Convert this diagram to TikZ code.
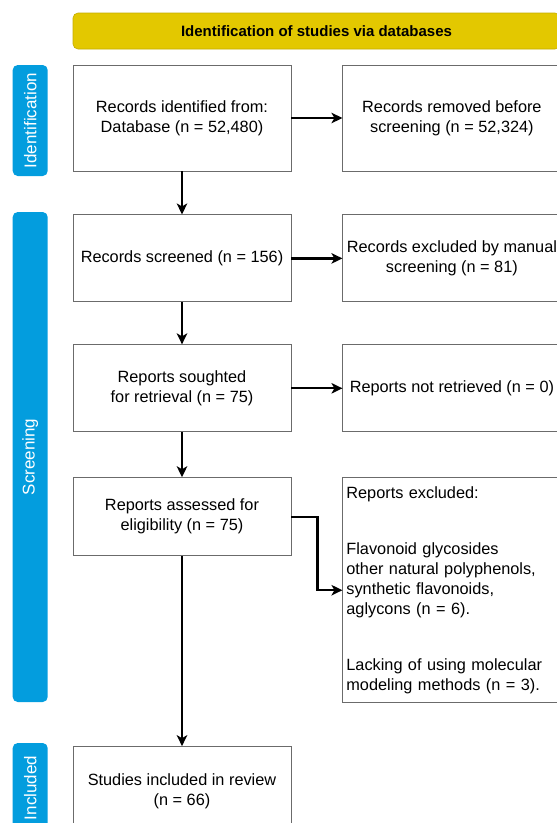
\documentclass[tikz,border=0pt]{standalone}
\usepackage{fontspec}
\setmainfont{Liberation Sans}
\usepackage{xcolor}
\usetikzlibrary{arrows.meta, positioning}

\definecolor{bannergold}{HTML}{E3C800}
\definecolor{bannerline}{HTML}{C4AC00}
\definecolor{phaseblue}{HTML}{039DDE}
\definecolor{boxline}{HTML}{6B6B6B}

\begin{document}
\begin{tikzpicture}[
    x=1pt, y=1pt,
    box/.style={rectangle, draw=boxline, line width=0.9pt,
                minimum width=218pt, inner xsep=3pt,
                align=center, font=\fontsize{16.3}{20}\selectfont},
    phase/.style={rectangle, rounded corners=5pt, fill=phaseblue, text=white,
                  rotate=90, minimum height=35pt, inner sep=0pt,
                  font=\fontsize{17}{20}\selectfont},
    banner/.style={rectangle, rounded corners=5pt, fill=bannergold, draw=bannerline,
                   line width=0.6pt, minimum width=487pt, minimum height=36pt,
                   font=\bfseries\fontsize{15}{18}\selectfont},
    arrow/.style={-{Stealth[length=11pt, width=10.5pt, inset=3pt]}, line width=2.3pt}
  ]
  \useasboundingbox (0,0) rectangle (557,-823);

  \node[banner] (head) at (316.5,-31) {Identification of studies via databases};

  \node[phase, minimum width=111pt] (pid) at (30.2,-120.5) {Identification};
  \node[phase, minimum width=490pt] (pscr) at (30.2,-457) {Screening};
  \node[phase, minimum width=90pt]  (pinc) at (30.2,-788) {Included};

  \node[box, minimum height=106pt] (b1) at (182,-118) {Records identified from:\\Database (n = 52,480)};
  \node[box, minimum height=106pt, right=51pt of b1] (b2) {Records removed before\\screening (n = 52,324)};
  \node[box, minimum height=87pt, below=43pt of b1] (b3) {Records screened (n = 156)};
  \node[box, minimum height=87pt, right=51pt of b3] (b4) {Records excluded by manual\\screening (n = 81)};
  \node[box, minimum height=87pt, below=42pt of b3] (b5) {Reports soughted\\for retrieval (n = 75)};
  \node[box, minimum height=87pt, right=51pt of b5] (b6) {Reports not retrieved (n = 0)};
  \node[box, minimum height=78pt, below=45pt of b5] (b7) {Reports assessed for\\eligibility (n = 75)};
  \node[box, minimum height=225pt, text width=211pt, align=left,
        right=51pt of b7.north east, anchor=north west] (b8)
        {Reports excluded:\\[36pt]Flavonoid glycosides\\other natural polyphenols,\\synthetic flavonoids,\\aglycons (n = 6).\\[36pt]Lacking of using molecular\\modeling methods (n = 3).};
  \node[box, minimum height=90pt, below=190pt of b7] (b9) {Studies included in review\\(n = 66)};

  \draw[arrow] (b1) -- (b2);
  \draw[arrow] (b1) -- (b3);
  \draw[arrow] (b3) -- (b4);
  \draw[arrow] (b3) -- (b5);
  \draw[arrow] (b5) -- (b6);
  \draw[arrow] (b5) -- (b7);
  \draw[arrow] (b7.east) -- ++(26,0) |- (b8.west);
  \draw[arrow] (b7) -- (b9);
\end{tikzpicture}
\end{document}
